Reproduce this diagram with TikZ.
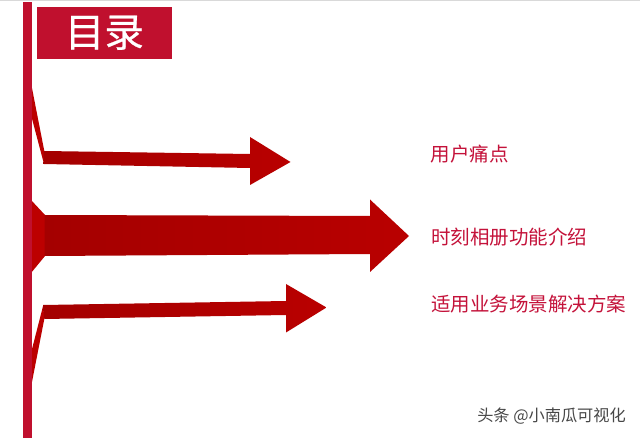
\documentclass[tikz,border=0pt]{standalone}
\usepackage{fontspec}
\newfontfamily\cjk{Noto Sans CJK SC}
\newfontfamily\cjkheavy[FakeBold=0.6]{Noto Sans CJK SC}
\definecolor{barred}{HTML}{C0102E}
\definecolor{txtred}{HTML}{C4123A}
\tikzset{
  item/.style={anchor=west,inner sep=0pt,text=txtred,font=\cjk\fontsize{19.5}{19.5}\selectfont},
  redarrow/.style={left color=#1,right color=arrowend,draw=none},
  redarrow/.default=arrowstart,
  wedge/.style={fill=arrowwedge,draw=none}
}
\definecolor{arrowstart}{HTML}{A40000}
\definecolor{arrowend}{HTML}{B90000}
\definecolor{arrowwedge}{HTML}{BC0000}
\begin{document}
\begin{tikzpicture}[x=1pt,y=-1pt]
\useasboundingbox (0,0) rectangle (640,438);
\fill[white] (0,0) rectangle (640,438);
\fill[black!15] (0,0) rectangle (640,1.2);
% arrow 1
\fill[wedge] (31,83) -- (44.3,151) -- (44,164) -- (31,115) -- cycle;
\path[redarrow] (44,151) -- (250,154) -- (250,137) -- (290.5,162) -- (250,185) -- (250,168) -- (43.7,164) -- cycle;
% arrow 2
\fill[wedge] (31,200) -- (45,215) -- (45,256) -- (31,273) -- cycle;
\path[redarrow] (44.7,215) -- (370,216) -- (370,199.5) -- (409,236) -- (370,272) -- (370,254) -- (44.7,256) -- cycle;
% arrow 3
\fill[wedge] (31,353) -- (43.3,305) -- (44.3,319) -- (31,387) -- cycle;
\path[redarrow] (43.3,305) -- (286,301) -- (286,284) -- (326.5,307.5) -- (286,332.5) -- (286,315) -- (44.3,319) -- cycle;
% bar and title
\fill[barred] (23.3,2) rectangle (31.5,438);
\node[fill=barred,minimum width=134.5pt,minimum height=52pt,inner sep=0pt,anchor=north west,text=white,font=\cjkheavy\fontsize{39.5}{39.5}\selectfont] (title) at (37,6.5) {目录};
\node[item] (a) at (430.5,154.5) {用户痛点};
\node[item] (b) at (431,237) {时刻相册功能介绍};
\node[item] (c) at (431,304.5) {适用业务场景解决方案};
\node[anchor=east,inner sep=0pt,text=black!72,font=\cjk\fontsize{16.2}{16.2}\selectfont] (w) at (626,416) {头条 @小南瓜可视化};
\end{tikzpicture}
\end{document}
